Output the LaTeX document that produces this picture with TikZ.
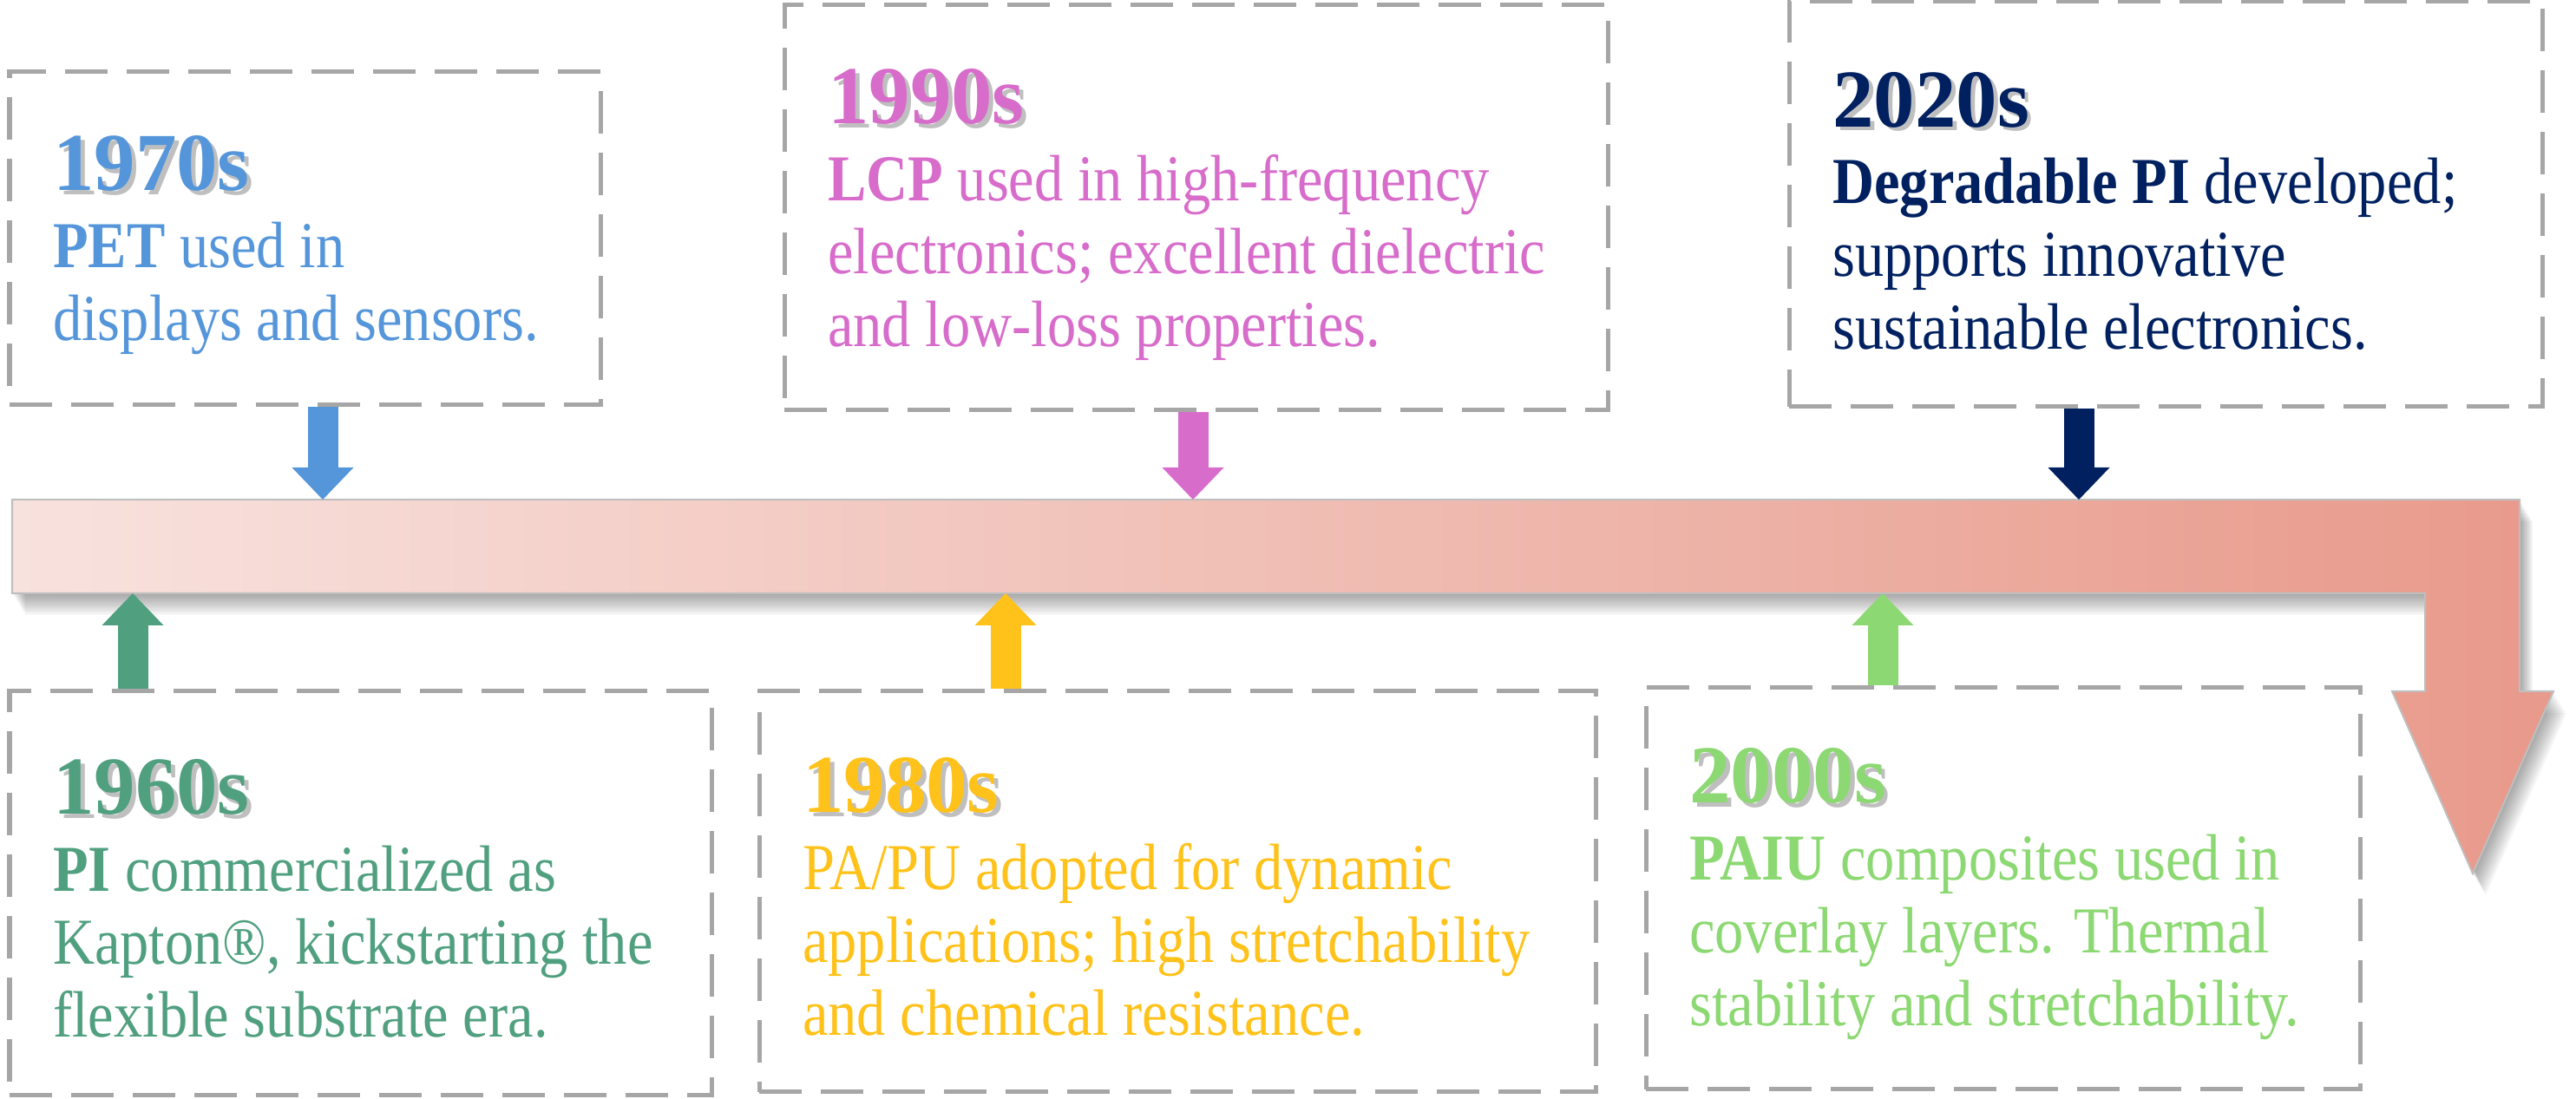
\documentclass[tikz,border=0pt]{standalone}
\usepackage{fontspec}
\setmainfont{Liberation Serif}
\newfontfamily\bodyfont[FakeStretch=0.88]{Liberation Serif}
\usetikzlibrary{arrows.meta}

\definecolor{c1960}{HTML}{50A080}
\definecolor{c1970}{HTML}{5596DA}
\definecolor{c1980}{HTML}{FFC21A}
\definecolor{c1990}{HTML}{D76CCB}
\definecolor{c2000}{HTML}{8CD872}
\definecolor{c2020}{HTML}{002060}
\definecolor{barleft}{HTML}{F8E2DE}
\definecolor{barright}{HTML}{E89A8B}

% decade heading with its grey shadow
\newcommand{\decade}[1]{{\rmfamily\fontsize{27pt}{27pt}\selectfont\bfseries
  \makebox[0pt][l]{\hspace{1.4pt}\raisebox{-1.4pt}{\color{black!25}#1}}#1}}

% the bent timeline arrow
\newcommand{\timelinepath}{(0.14,6.91) -- (29.04,6.91) -- (29.04,4.70) -- (29.43,4.70)
  -- (28.50,2.60) -- (27.57,4.70) -- (27.95,4.70) -- (27.95,5.83) -- (0.14,5.83) -- cycle}

\begin{document}
\begin{tikzpicture}[
  frame/.style={draw=black!35, line width=0.05cm, dash pattern=on 0.49cm off 0.22cm},
  yeartext/.style={align=left, inner sep=0pt, anchor=west,
    font=\bodyfont\fontsize{21.5pt}{23.9pt}\selectfont},
  pointer/.style={line width=0.35cm,
    -{Triangle[width=0.71cm, length=0.37cm, line width=0pt]}}
]
  \useasboundingbox (0,0) rectangle (29.69,12.67);

  % shadow and timeline
  \foreach \s in {1,...,10}
    \fill[black, opacity=0.04, shift={(0.015*\s,-0.025*\s)}] \timelinepath;
  \path[draw=black!25, line width=0.02cm, left color=barleft, right color=barright] \timelinepath;

  \coordinate (p1970) at (3.72,6.91);
  \coordinate (p1990) at (13.75,6.91);
  \coordinate (p2020) at (23.96,6.91);
  \coordinate (p1960) at (1.53,5.83);
  \coordinate (p1980) at (11.59,5.83);
  \coordinate (p2000) at (21.70,5.83);

  % frames
  \node[frame, minimum width=6.81cm, minimum height=3.84cm] (b1970) at (3.515,9.92)  {};
  \node[frame, minimum width=9.49cm, minimum height=4.67cm] (b1990) at (13.785,10.275) {};
  \node[frame, minimum width=8.68cm, minimum height=4.67cm] (b2020) at (24.96,10.315) {};
  \node[frame, minimum width=8.09cm, minimum height=4.66cm] (b1960) at (4.155,2.37)  {};
  \node[frame, minimum width=9.64cm, minimum height=4.62cm] (b1980) at (13.57,2.39)  {};
  \node[frame, minimum width=8.23cm, minimum height=4.63cm] (b2000) at (23.085,2.425) {};

  % texts
  \node[yeartext, text=c1970] (t1970) at ([xshift=0.52cm,yshift=-0.08cm]b1970.west)
    {\decade{1970s}\\[1.4pt] \textbf{PET} used in\\ displays and sensors.};
  \node[yeartext, text=c1990] (t1990) at ([xshift=0.52cm,yshift=-0.08cm]b1990.west)
    {\decade{1990s}\\[1.4pt] \textbf{LCP} used in high-frequency\\ electronics; excellent dielectric\\ and low-loss properties.};
  \node[yeartext, text=c2020] (t2020) at ([xshift=0.52cm,yshift=-0.08cm]b2020.west)
    {\decade{2020s}\\[1.4pt] \textbf{Degradable PI} developed;\\ supports innovative\\ sustainable electronics.};
  \node[yeartext, text=c1960] (t1960) at ([xshift=0.52cm,yshift=-0.06cm]b1960.west)
    {\decade{1960s}\\[1.4pt] \textbf{PI} commercialized as\\ Kapton®, kickstarting the\\ flexible substrate era.};
  \node[yeartext, text=c1980] (t1980) at ([xshift=0.52cm,yshift=-0.06cm]b1980.west)
    {\decade{1980s}\\[1.4pt] PA/PU adopted for dynamic\\ applications; high stretchability\\ and chemical resistance.};
  \node[yeartext, text=c2000] (t2000) at ([xshift=0.52cm,yshift=-0.06cm]b2000.west)
    {\decade{2000s}\\[1.4pt] \textbf{PAIU} composites used in\\ coverlay layers. Thermal\\ stability and stretchability.};

  % pointers to the timeline
  \draw[pointer, c1970] (b1970.south -| p1970) -- (p1970);
  \draw[pointer, c1990] (b1990.south -| p1990) -- (p1990);
  \draw[pointer, c2020] (b2020.south -| p2020) -- (p2020);
  \draw[pointer, c1960] (b1960.north -| p1960) -- (p1960);
  \draw[pointer, c1980] (b1980.north -| p1980) -- (p1980);
  \draw[pointer, c2000] (b2000.north -| p2000) -- (p2000);
\end{tikzpicture}
\end{document}
